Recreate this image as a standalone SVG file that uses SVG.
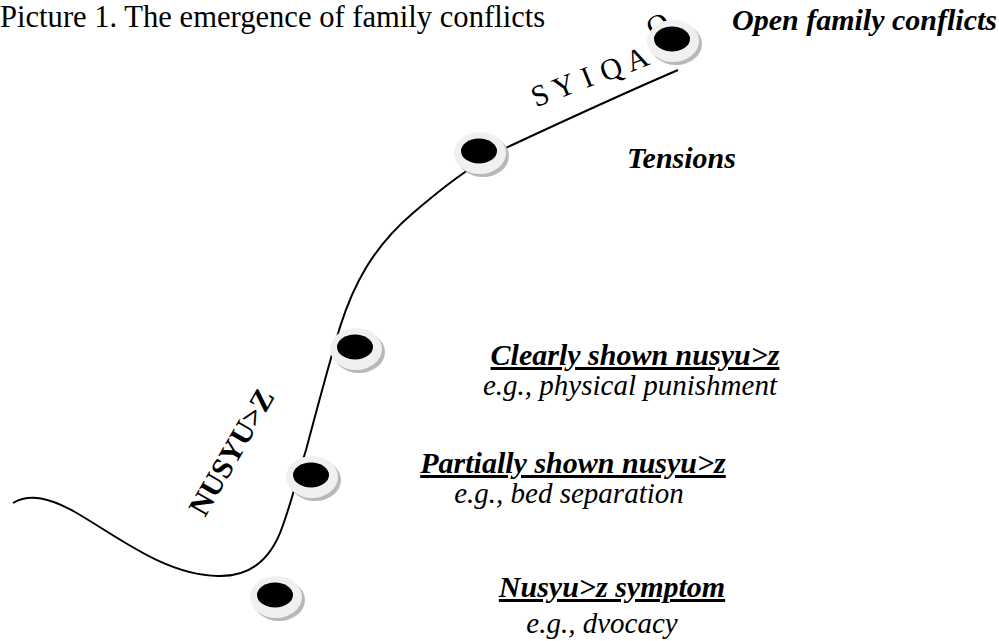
<svg xmlns="http://www.w3.org/2000/svg" width="999" height="641" viewBox="0 0 999 641">
<style>
.title{font-family:"Liberation Serif","Times New Roman",serif;font-size:30.6px;fill:#000}
.lbl{font-family:"Liberation Serif","Times New Roman",serif;font-size:30px;font-weight:bold;font-style:italic;fill:#000}
.ul{text-decoration:underline;text-decoration-thickness:3px}
.sub{font-family:"Liberation Serif","Times New Roman",serif;font-size:29px;font-style:italic;fill:#000}
.axis{font-family:"Liberation Serif","Times New Roman",serif;fill:#000}
.ch{font-family:"Liberation Serif","Times New Roman",serif;font-size:30px;fill:#000;text-anchor:middle}
.curve{fill:none;stroke:#000;stroke-width:2}
</style>
<defs>
<g id="dot">
<ellipse cx="3" cy="3" rx="26" ry="21" fill="#b8b8b8"/>
<ellipse cx="0" cy="0" rx="26" ry="21" fill="#f0f0f0"/>
<ellipse cx="-1" cy="-2" rx="18" ry="12.5" fill="#000"/>
</g>
</defs>
<text class="title" x="0" y="27">Picture 1. The emergence of family conflicts</text>
<g id="connectors">
<path class="curve" d="M13,503 C30,493 50,498 75,512 C120,538 165,575 218,576 C252,577 272,558 283,525 C292,500 298,475 306,450 C318,405 330,360 340,327 C353,286 372,248 413,213 C440,190 470,165 510,146 C570,118 620,95 678,70"/>
</g>
<g id="label-syiqaq">
<text class="ch" transform="translate(540,95) rotate(-22)" y="10">S</text>
<text class="ch" transform="translate(564,86) rotate(-22)" y="10">Y</text>
<text class="ch" transform="translate(587,77) rotate(-22)" y="10">I</text>
<text class="ch" transform="translate(611,69) rotate(-22)" y="10">Q</text>
<text class="ch" transform="translate(637,59) rotate(-22)" y="10">A</text>
<text class="ch" transform="translate(658,25) rotate(-30)" y="10">Q</text>
</g>
<text class="axis" font-size="30" font-weight="bold" transform="translate(205,518) rotate(-60)">NUSYU&gt;Z</text>
<g id="node-symptom">
<use href="#dot" transform="translate(276,597)"/>
<text class="lbl ul" font-size="31" x="612" y="597" text-anchor="middle">Nusyu&gt;z symptom</text>
<text class="sub" x="602" y="633" text-anchor="middle">e.g., dvocacy</text>
</g>
<g id="node-partial">
<use href="#dot" transform="translate(312,477)"/>
<text class="lbl ul" x="573" y="473" text-anchor="middle">Partially shown nusyu&gt;z</text>
<text class="sub" x="569" y="503" text-anchor="middle">e.g., bed separation</text>
</g>
<g id="node-clear">
<use href="#dot" transform="translate(356,349)"/>
<text class="lbl ul" x="635" y="365" text-anchor="middle">Clearly shown nusyu&gt;z</text>
<text class="sub" x="630" y="395" text-anchor="middle">e.g., physical punishment</text>
</g>
<g id="node-tensions">
<use href="#dot" transform="translate(480,153)"/>
<text class="lbl" x="627" y="168">Tensions</text>
</g>
<g id="node-open">
<use href="#dot" transform="translate(673,41)"/>
<text class="lbl" font-size="31" x="997" y="30" text-anchor="end">Open family conflicts</text>
</g>
</svg>
